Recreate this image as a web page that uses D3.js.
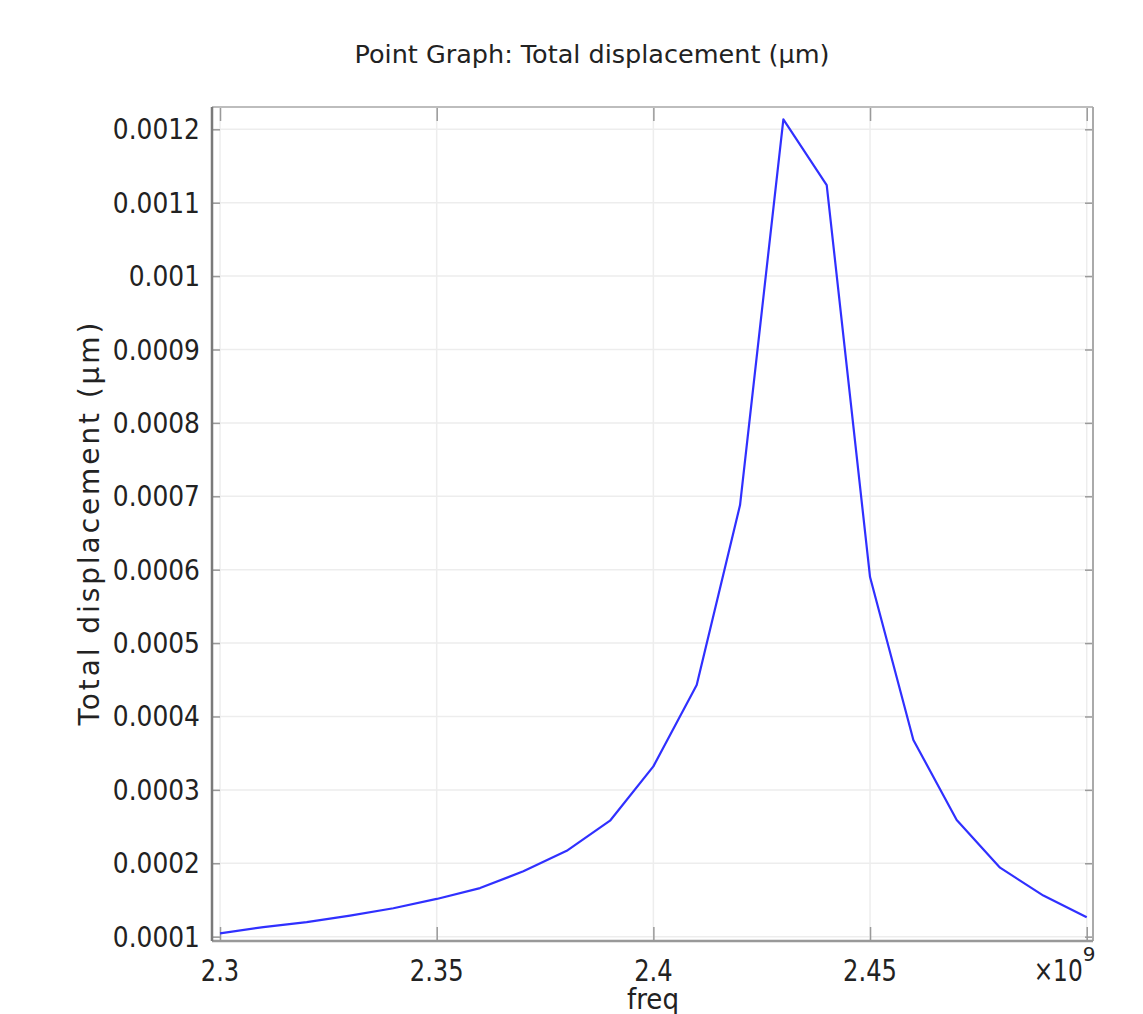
<!DOCTYPE html>
<html>
<head>
<meta charset="utf-8">
<script src="https://cdn.jsdelivr.net/npm/d3@7"></script>
<style>
  body { margin: 0; background: #fff; }
  svg text { font-family: "DejaVu Sans", sans-serif; fill: #222; }
</style>
</head>
<body>
<svg id="chart" width="1143" height="1014"></svg>
<script>
// frequency in Hz, displacement in um
const freq = [2.30e9, 2.31e9, 2.32e9, 2.33e9, 2.34e9, 2.35e9, 2.36e9, 2.37e9, 2.38e9, 2.39e9,
              2.40e9, 2.41e9, 2.42e9, 2.43e9, 2.44e9, 2.45e9, 2.46e9, 2.47e9, 2.48e9, 2.49e9, 2.50e9]
const displacement = [0.0001046, 0.000113, 0.0001197, 0.0001286, 0.0001387, 0.0001514, 0.0001662,
                      0.000189, 0.000217, 0.000258, 0.000332, 0.000443, 0.000688, 0.0012136,
                      0.0011241, 0.00059, 0.000368, 0.000259, 0.000194, 0.000156, 0.0001264]
const xTicks = [2.3e9, 2.35e9, 2.4e9, 2.45e9, 2.5e9]
const xTickLabels = ["2.3", "2.35", "2.4", "2.45", ""]
const yTicks = [0.0001, 0.0002, 0.0003, 0.0004, 0.0005, 0.0006, 0.0007, 0.0008, 0.0009, 0.001, 0.0011, 0.0012]
const yTickLabels = ["0.0001", "0.0002", "0.0003", "0.0004", "0.0005", "0.0006", "0.0007", "0.0008", "0.0009", "0.001", "0.0011", "0.0012"]

// note: "top" is taken by window.top, so plot edges get their own names
var pLeft = 212, pRight = 1093, pTop = 107, pBottom = 941

var svg = d3.select('#chart')

var x_scale = d3.scaleLinear()
    .domain([2.29815e9, 2.50145e9])
    .range([pLeft, pRight])
var y_scale = d3.scaleLinear()
    .domain([0.0000941, 0.0012304])
    .range([pBottom, pTop])

// squeeze text horizontally so it looks like the narrow font in the original
function squeeze(sel, f) {
    sel.each(function () {
        var w = this.getComputedTextLength()
        d3.select(this).attr('textLength', w * f).attr('lengthAdjust', 'spacingAndGlyphs')
    })
}

// grid
svg.append('g').selectAll('line').data(xTicks).enter().append('line')
    .attr('x1', d => x_scale(d)).attr('x2', d => x_scale(d))
    .attr('y1', pTop).attr('y2', pBottom)
    .style('stroke', '#ededed').style('stroke-width', 1.5)
svg.append('g').selectAll('line').data(yTicks).enter().append('line')
    .attr('x1', pLeft).attr('x2', pRight)
    .attr('y1', d => y_scale(d)).attr('y2', d => y_scale(d))
    .style('stroke', '#ededed').style('stroke-width', 1.5)

// inner ticks
var x_axis_bottom = d3.axisTop(x_scale).tickValues(xTicks).tickSize(14).tickFormat('')
var x_axis_top = d3.axisBottom(x_scale).tickValues(xTicks).tickSize(14).tickFormat('')
var y_axis_left = d3.axisRight(y_scale).tickValues(yTicks).tickSize(8).tickFormat('')
var y_axis_right = d3.axisLeft(y_scale).tickValues(yTicks).tickSize(8).tickFormat('')
svg.append('g').attr('class', 'ax').attr('transform', 'translate(0,' + pBottom + ')').call(x_axis_bottom)
svg.append('g').attr('class', 'ax').attr('transform', 'translate(0,' + pTop + ')').call(x_axis_top)
svg.append('g').attr('class', 'ax').attr('transform', 'translate(' + pLeft + ',0)').call(y_axis_left)
svg.append('g').attr('class', 'ax').attr('transform', 'translate(' + pRight + ',0)').call(y_axis_right)
svg.selectAll('.ax .domain').remove()
svg.selectAll('.ax .tick line').style('stroke', '#9a9a9a').style('stroke-width', 1.5)

// frame
svg.append('line').attr('x1', pLeft).attr('x2', pRight).attr('y1', pTop).attr('y2', pTop)
    .style('stroke', '#bdbdbd').style('stroke-width', 2)
svg.append('line').attr('x1', pRight).attr('x2', pRight).attr('y1', pTop).attr('y2', pBottom)
    .style('stroke', '#aaaaaa').style('stroke-width', 2)
svg.append('line').attr('x1', pLeft).attr('x2', pRight).attr('y1', pBottom).attr('y2', pBottom)
    .style('stroke', '#999999').style('stroke-width', 2.5)
svg.append('line').attr('x1', pLeft).attr('x2', pLeft).attr('y1', pTop).attr('y2', pBottom)
    .style('stroke', '#7a7a7a').style('stroke-width', 2.5)

// curve
var line = d3.line()
    .x((d, i) => x_scale(freq[i]))
    .y(d => y_scale(d))
svg.append('path').datum(displacement)
    .attr('d', line)
    .style('fill', 'none')
    .style('stroke', '#3030ff')
    .style('stroke-width', 2.2)
    .style('stroke-linejoin', 'round')

// tick labels
var yl = svg.append('g').selectAll('text').data(yTicks).enter().append('text')
    .attr('x', 200).attr('y', d => y_scale(d) + 10)
    .attr('text-anchor', 'end')
    .style('font-size', '28px')
    .text((d, i) => yTickLabels[i])
squeeze(yl, 0.89)

var xl = svg.append('g').selectAll('text').data(xTicks).enter().append('text')
    .attr('x', d => x_scale(d)).attr('y', 981)
    .attr('text-anchor', 'middle')
    .style('font-size', '31px')
    .text((d, i) => xTickLabels[i])
squeeze(xl.filter((d, i) => xTickLabels[i] != ""), 0.78)

// exponent
var ex = svg.append('text').attr('x', x_scale(2.5e9) - 4).attr('y', 981)
    .attr('text-anchor', 'end').style('font-size', '31px').text('×10')
squeeze(ex, 0.75)
svg.append('text').attr('x', x_scale(2.5e9) - 4).attr('y', 961)
    .style('font-size', '20px').text('9')

// titles
svg.append('text').attr('x', 592).attr('y', 63)
    .attr('text-anchor', 'middle').style('font-size', '25px')
    .attr('textLength', 475).attr('lengthAdjust', 'spacingAndGlyphs')
    .text('Point Graph: Total displacement (µm)')

svg.append('text')
    .attr('transform', 'translate(99,' + 524 + ') rotate(-90)')
    .attr('text-anchor', 'middle').style('font-size', '28px')
    .attr('textLength', 403).attr('lengthAdjust', 'spacing')
    .text('Total displacement (µm)')

svg.append('text').attr('x', 653).attr('y', 1009)
    .attr('text-anchor', 'middle').style('font-size', '28px')
    .attr('textLength', 52).attr('lengthAdjust', 'spacingAndGlyphs')
    .text('freq')
</script>
</body>
</html>
